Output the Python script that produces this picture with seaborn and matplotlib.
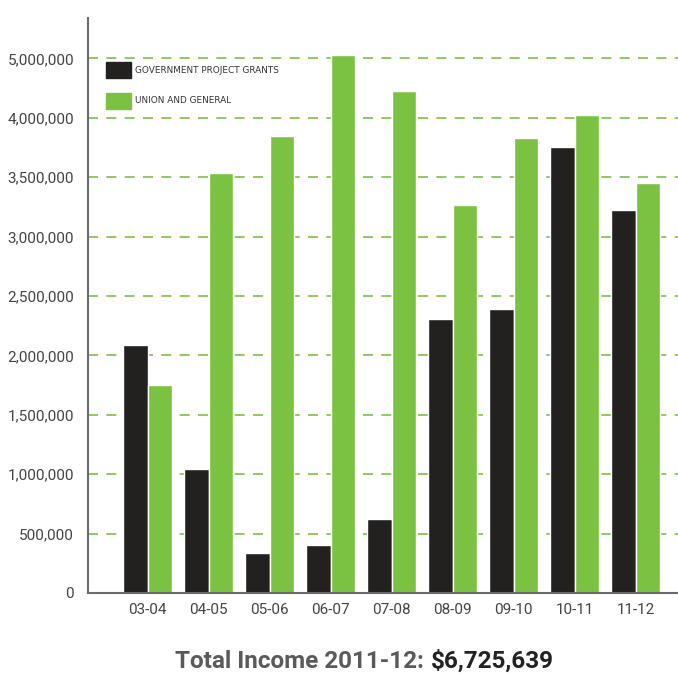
import matplotlib
matplotlib.use("Agg")
import matplotlib.pyplot as plt
import seaborn as sns
import pandas as pd

# data
years = ["03-04", "04-05", "05-06", "06-07", "07-08", "08-09", "09-10", "10-11", "11-12"]
gov_grants = [2090000, 1040000, 340000, 400000, 620000, 2310000, 2390000, 3750000, 3220000]
union_general = [1750000, 3535000, 3850000, 4530000, 4225000, 3270000, 3830000, 4020000, 3450000]
series_names = ["GOVERNMENT PROJECT GRANTS", "UNION AND GENERAL"]
# tick labels as printed in the original (top one reads 5,000,000)
ytick_vals = [0, 500000, 1000000, 1500000, 2000000, 2500000, 3000000, 3500000, 4000000, 4500000]
ytick_labels = ["0", "500,000", "1,000,000", "1,500,000", "2,000,000", "2,500,000",
                "3,000,000", "3,500,000", "4,000,000", "5,000,000"]

df = pd.DataFrame({
    "year": years * 2,
    "value": gov_grants + union_general,
    "series": [series_names[0]] * len(years) + [series_names[1]] * len(years),
})

BLACK = "#222120"
GREEN = "#7cc242"
tick_font = ["Roboto", "DejaVu Sans"]

sns.set_style("white")
plt.rcParams["font.family"] = ["DejaVu Sans"]

fig = plt.figure(figsize=(6.78, 6.73), dpi=100)
ax = fig.add_axes([88 / 678, 80 / 673, 1 - 88 / 678, (593 - 18) / 673])

sns.barplot(data=df, x="year", y="value", hue="series", hue_order=series_names,
            palette=[BLACK, GREEN], width=0.8, edgecolor="white", linewidth=1.0,
            saturation=1, ax=ax, zorder=3)

ax.set_xlim(-0.98, 8.69)
ax.set_ylim(0, 4840000)
ax.set_yticks(ytick_vals)
ax.set_yticklabels(ytick_labels, family=tick_font, fontsize=11, color="#444444")
ax.set_xticks(range(len(years)))
ax.set_xticklabels(years, family=tick_font, fontsize=11, color="#444444")
ax.tick_params(axis="both", length=0)
ax.tick_params(axis="y", pad=10)
ax.tick_params(axis="x", pad=7)
ax.set_xlabel("")
ax.set_ylabel("")

for v in ytick_vals[1:]:
    ax.axhline(v, color=GREEN, lw=1.2, ls=(0, (6, 5)), zorder=1)

for side in ["top", "right"]:
    ax.spines[side].set_visible(False)
for side in ["left", "bottom"]:
    ax.spines[side].set_color("#6b6b6b")
    ax.spines[side].set_linewidth(1.5)
    ax.spines[side].set_zorder(5)

ax.legend_.remove()
handles = [plt.Rectangle((0, 0), 1, 1, color=BLACK), plt.Rectangle((0, 0), 1, 1, color=GREEN)]
fig.legend(handles, series_names, loc="upper left", bbox_to_anchor=(106 / 678, 1 - 62 / 673),
           bbox_transform=fig.transFigure, frameon=False, borderpad=0, borderaxespad=0,
           fontsize=6.4, handlelength=2.8, handleheight=2.4, handletextpad=0.45,
           labelspacing=1.65, labelcolor="#333333")

fig.text(424 / 678, 1 - 661 / 673, "Total Income 2011-12:", ha="right", va="center",
         family=tick_font, fontweight="bold", fontsize=17.5, color="#5a5a5a")
fig.text(431 / 678, 1 - 661 / 673, "$6,725,639", ha="left", va="center",
         family=tick_font, fontweight="bold", fontsize=17.5, color="#222222")

fig.savefig("out.png", dpi=100)
